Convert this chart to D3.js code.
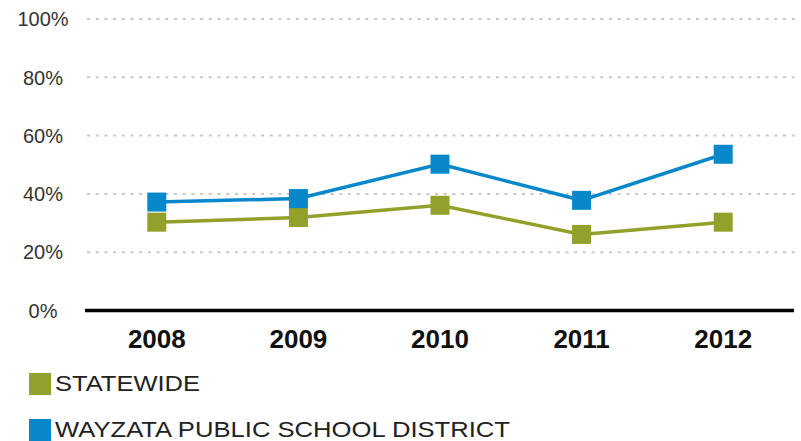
<!DOCTYPE html>
<html>
<head>
<meta charset="utf-8">
<script src="https://cdn.jsdelivr.net/npm/d3@7"></script>
<style>
  html, body { margin: 0; padding: 0; background: #fff; }
  svg { display: block; }
</style>
</head>
<body>
<svg id="chart" width="801" height="441"></svg>
<script>
const years = ["2008", "2009", "2010", "2011", "2012"];
const statewide = [30.3, 31.9, 36.1, 26.1, 30.3];
const wayzata = [37.2, 38.4, 50.2, 37.8, 53.6];
const yTicks = [0, 20, 40, 60, 80, 100];
const seriesNames = ["STATEWIDE", "WAYZATA PUBLIC SCHOOL DISTRICT"];
const seriesColors = ["#93a02b", "#0888ca"];

const svg = d3.select("#chart");
const x = d3.scalePoint().domain(years).range([86, 794]).padding(0.5);
const y = d3.scaleLinear().domain([0, 100]).range([310.5, 19]);

// gridlines
svg.append("g").selectAll("line").data(yTicks.filter(d => d > 0)).join("line")
  .attr("x1", 87).attr("x2", 798)
  .attr("y1", d => y(d)).attr("y2", d => y(d))
  .attr("stroke", "#c8c8c8").attr("stroke-width", 2)
  .attr("stroke-dasharray", "3,5.7");

// y labels
svg.append("g").selectAll("text").data(yTicks).join("text")
  .attr("x", 43).attr("y", d => y(d))
  .attr("dy", "0.36em")
  .attr("text-anchor", "middle")
  .attr("font-family", "Liberation Sans, Arial, sans-serif")
  .attr("font-size", 20)
  .attr("fill", "#333")
  .text(d => d + "%");

// x axis line
svg.append("line")
  .attr("x1", 85).attr("x2", 794)
  .attr("y1", y(0)).attr("y2", y(0))
  .attr("stroke", "#000").attr("stroke-width", 3.5);

// x labels
svg.append("g").selectAll("text").data(years).join("text")
  .attr("x", d => x(d)).attr("y", 348)
  .attr("text-anchor", "middle")
  .attr("font-family", "Liberation Sans, Arial, sans-serif")
  .attr("font-weight", "bold")
  .attr("font-size", 26)
  .attr("fill", "#111")
  .text(d => d);

const series = [statewide, wayzata];
const line = d3.line().x((d, i) => x(years[i])).y(d => y(d));

series.forEach((vals, si) => {
  svg.append("path")
    .datum(vals)
    .attr("d", line)
    .attr("fill", "none")
    .attr("stroke", seriesColors[si])
    .attr("stroke-width", 3.5);
});
series.forEach((vals, si) => {
  svg.append("g").selectAll("rect").data(vals).join("rect")
    .attr("x", (d, i) => x(years[i]) - 9.5)
    .attr("y", d => y(d) - 9.5)
    .attr("width", 19).attr("height", 19)
    .attr("fill", seriesColors[si]);
});

// legend
const legendY = [373, 419];
const legendW = [145, 455];
seriesNames.forEach((name, i) => {
  svg.append("rect")
    .attr("x", 29).attr("y", legendY[i])
    .attr("width", 22).attr("height", 22)
    .attr("fill", seriesColors[i]);
  svg.append("text")
    .attr("x", 55).attr("y", legendY[i] + 18)
    .attr("font-family", "Liberation Sans, Arial, sans-serif")
    .attr("font-size", 22)
    .attr("fill", "#222")
    .attr("textLength", legendW[i])
    .attr("lengthAdjust", "spacingAndGlyphs")
    .text(name);
});
</script>
</body>
</html>
